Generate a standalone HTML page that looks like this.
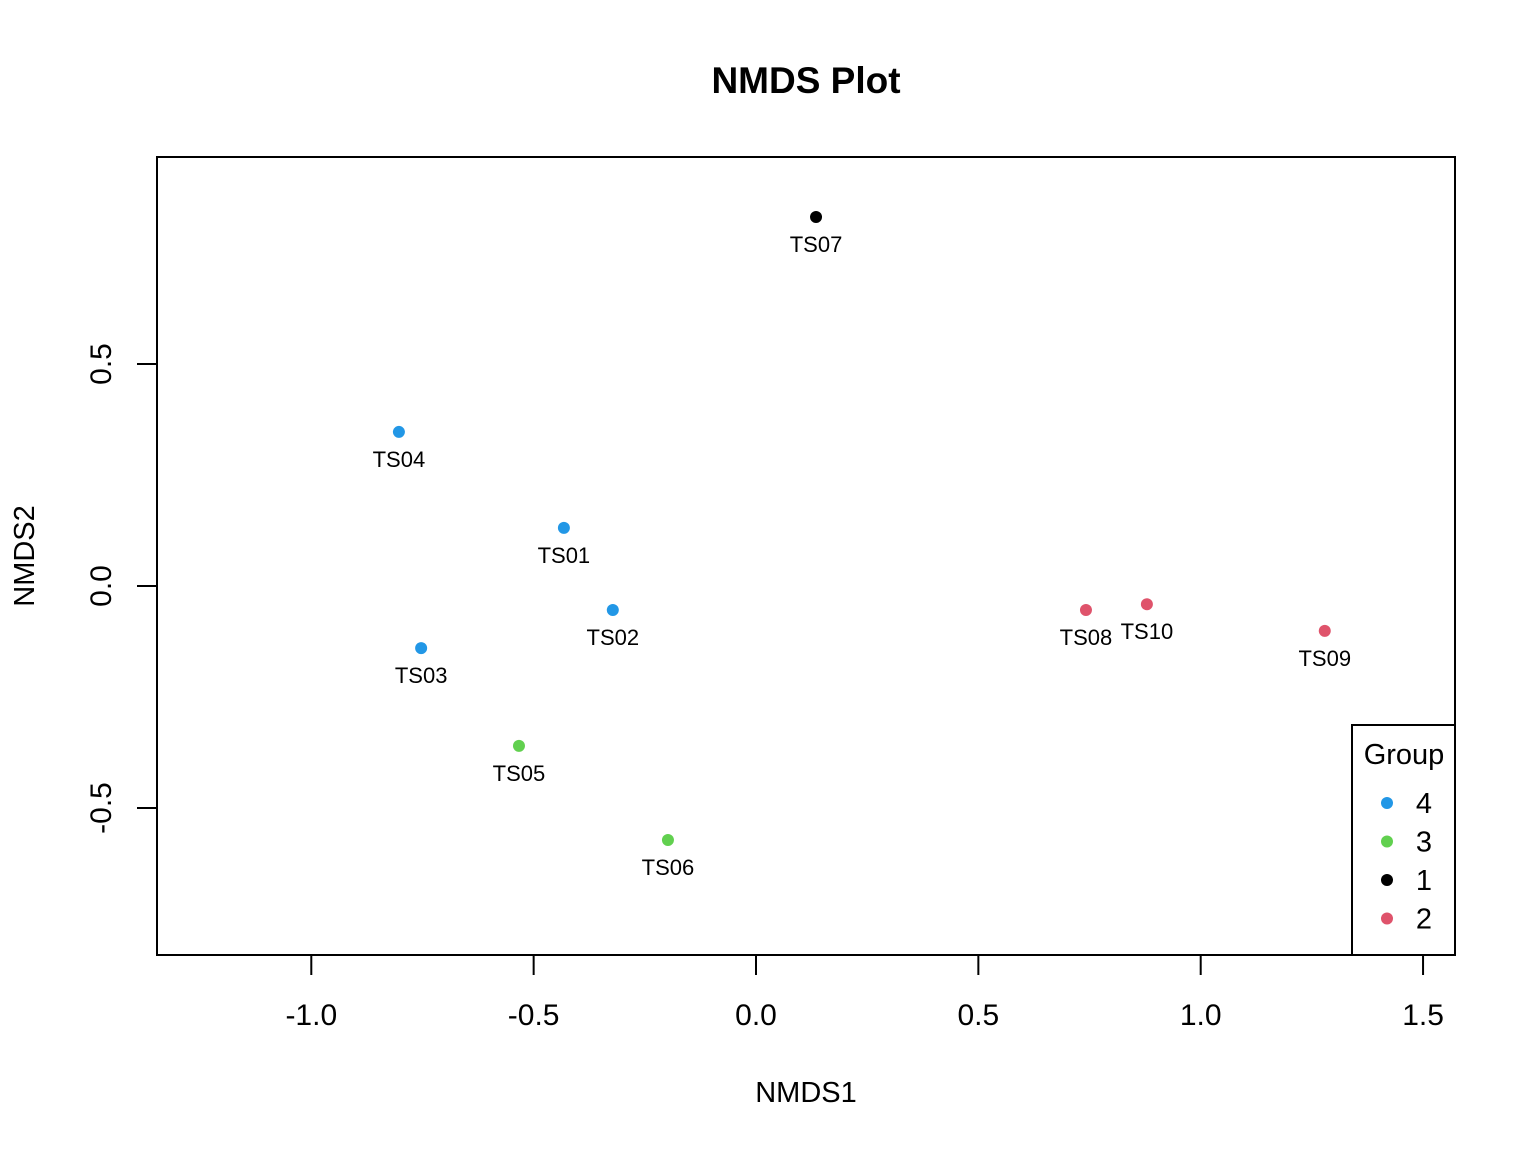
<!DOCTYPE html>
<html><head><meta charset="utf-8"><style>
html,body{margin:0;padding:0;background:#fff;}
svg{display:block;font-family:"Liberation Sans",Arial,sans-serif;}
</style></head><body>
<svg id="chart" width="1536" height="1152" viewBox="0 0 1536 1152">
<text x="806" y="93" text-anchor="middle" font-size="37" font-weight="bold">NMDS Plot</text>
<rect x="157" y="157" width="1298" height="798" fill="none" stroke="#000" stroke-width="2"/>
<g id="xaxis"></g>
<g id="yaxis"></g>
<text x="806" y="1102" text-anchor="middle" font-size="29">NMDS1</text>
<text transform="translate(34,556) rotate(-90)" text-anchor="middle" font-size="29">NMDS2</text>
<g id="points"></g>
<g id="legend">
<rect x="1352" y="725" width="103" height="230" fill="#fff" stroke="#000" stroke-width="2"/>
<text x="1404" y="764" text-anchor="middle" font-size="29">Group</text>
</g>
</svg>
<script>
const samples = ["TS01","TS02","TS03","TS04","TS05","TS06","TS07","TS08","TS09","TS10"];
const nmds1 = [-0.432,-0.322,-0.753,-0.803,-0.533,-0.198,0.135,0.742,1.279,0.879];
const nmds2 = [0.131,-0.054,-0.140,0.347,-0.360,-0.572,0.831,-0.054,-0.101,-0.041];
const groups = ["4","4","4","4","3","3","1","2","2","2"];
const legendGroups = ["4","3","1","2"];
const groupColors = {"4":"#2297E6","3":"#61D04F","1":"#000000","2":"#DF536B"};
const xTicks = [-1.0,-0.5,0.0,0.5,1.0,1.5];
const yTicks = [-0.5,0.0,0.5];

const NS="http://www.w3.org/2000/svg";
const sx = v => 756 + v*444.7;
const sy = v => 586 - v*444;
function mk(tag, attrs, parent){const e=document.createElementNS(NS,tag);for(const k in attrs)e.setAttribute(k,attrs[k]);parent.appendChild(e);return e;}

const xa=document.getElementById('xaxis');
mk('line',{x1:sx(-1),x2:sx(1.5),y1:955,y2:955,stroke:'#000','stroke-width':2},xa);
xTicks.forEach(t=>{
  const l=mk('line',{x1:sx(t),x2:sx(t),y1:955,y2:975,stroke:'#000','stroke-width':2},xa);
  
  
  const tx=mk('text',{x:sx(t),y:1025,'text-anchor':'middle','font-size':30},xa);
  tx.textContent=t.toFixed(1);
  
  
});
const ya=document.getElementById('yaxis');
mk('line',{x1:157,x2:157,y1:sy(-0.5),y2:sy(0.5),stroke:'#000','stroke-width':2},ya);
yTicks.forEach(t=>{
  const l=mk('line',{x1:137,x2:157,y1:sy(t),y2:sy(t),stroke:'#000','stroke-width':2},ya);
  
  
  const tx=mk('text',{transform:`translate(111,${sy(t)}) rotate(-90)`,'text-anchor':'middle','font-size':30},ya);
  tx.textContent=t.toFixed(1);
  
  
});
const pg=document.getElementById('points');
samples.forEach((s,i)=>{
  const c=mk('circle',{cx:sx(nmds1[i]),cy:sy(nmds2[i]),r:6,fill:groupColors[groups[i]]},pg);
  
  
  const t=mk('text',{x:sx(nmds1[i]),y:sy(nmds2[i])+35,'text-anchor':'middle','font-size':22},pg);
  t.textContent=s;
  
  
});
const lg=document.getElementById('legend');
legendGroups.forEach((g,i)=>{
  const y=803+i*38.5;
  const c=mk('circle',{cx:1387,cy:y,r:6,fill:groupColors[g]},lg);
  
  
  const t=mk('text',{x:1424,y:y+10,'text-anchor':'middle','font-size':29},lg);
  t.textContent=g;
  
  
});
</script>
</body></html>
